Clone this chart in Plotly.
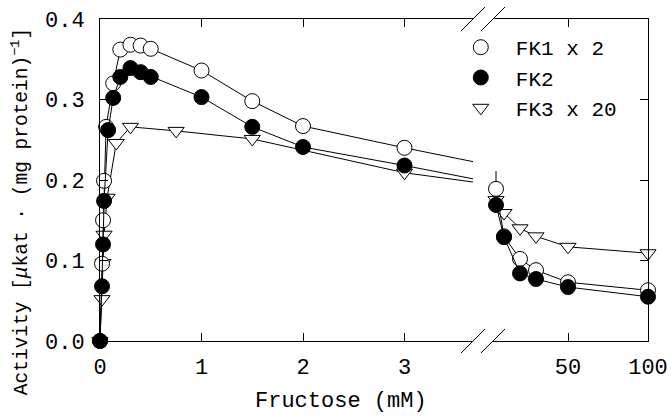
import plotly.graph_objects as go

# ---------------- data ----------------
fk1_x = [0, 0.02, 0.03, 0.04, 0.06, 0.13, 0.2, 0.3, 0.4, 0.5, 1, 1.5, 2, 3, 5, 10, 20, 30, 50, 100]
fk1_y = [0, 0.096, 0.150, 0.199, 0.266, 0.320, 0.362, 0.368, 0.367, 0.363, 0.336, 0.298, 0.267, 0.240,
         0.189, 0.130, 0.102, 0.088, 0.073, 0.063]
fk1_err = [0, 0.005, 0.005, 0.005, 0, 0, 0, 0, 0, 0, 0, 0, 0, 0, 0.022, 0, 0, 0, 0, 0]

fk2_x = [0, 0.02, 0.03, 0.04, 0.08, 0.13, 0.2, 0.3, 0.4, 0.5, 1, 1.5, 2, 3, 5, 10, 20, 30, 50, 100]
fk2_y = [0, 0.068, 0.120, 0.174, 0.262, 0.302, 0.328, 0.339, 0.334, 0.328, 0.303, 0.266, 0.241, 0.218,
         0.169, 0.129, 0.084, 0.077, 0.067, 0.055]

fk3_x = [0, 0.02, 0.03, 0.04, 0.07, 0.16, 0.3, 0.75, 1.5, 3, 5, 10, 20, 30, 50, 100]
fk3_y = [0, 0.052, 0.097, 0.132, 0.178, 0.246, 0.266, 0.261, 0.251, 0.209, 0.175, 0.159, 0.140, 0.130,
         0.117, 0.109]

series_names = ["FK1 x 2", "FK2", "FK3 x 20"]
x_ticks_left = [0, 1, 2, 3]
x_ticks_right = [50, 100]
y_ticks = [0.0, 0.1, 0.2, 0.3, 0.4]

# ---------------- layout geometry ----------------
W, H = 671, 417
ML, MR, MT, MB = 100, 23, 19, 76
PW = W - ML - MR
PH = H - MT - MB
left_end_px = 373          # px from plot-left where left segment ends
right_start_px = 393       # px from plot-left where right segment starts
left_px_per_unit = 101.5
right_px_per_unit = 1.6
left_range = [0, left_end_px / left_px_per_unit]
right_range = [100 - (PW - right_start_px) / right_px_per_unit, 100]
dom_left = [0, left_end_px / PW]
dom_right = [right_start_px / PW, 1]

FONT = "Liberation Mono"

fig = go.Figure()

styles = {
    "FK1 x 2": dict(symbol="circle", color="white", line=dict(color="black", width=1), size=15),
    "FK2": dict(symbol="circle", color="black", line=dict(color="black", width=1), size=15),
    "FK3 x 20": dict(symbol="triangle-down", color="white", line=dict(color="black", width=1), size=14),
}
data = {
    "FK1 x 2": (fk1_x, fk1_y, fk1_err),
    "FK2": (fk2_x, fk2_y, None),
    "FK3 x 20": (fk3_x, fk3_y, None),
}
rank = {"FK1 x 2": 1, "FK2": 2, "FK3 x 20": 3}

for name in ["FK3 x 20", "FK1 x 2", "FK2"]:
    xs, ys, err = data[name]
    # left segment line (clipped at break)
    fig.add_trace(go.Scatter(x=xs, y=ys, mode="lines", xaxis="x", yaxis="y",
                             line=dict(color="black", width=1), showlegend=False,
                             cliponaxis=True, hoverinfo="skip"))
    # left segment markers
    idx = [i for i, v in enumerate(xs) if v <= left_range[1]]
    eb = None
    if err is not None:
        eb = dict(type="data", array=[err[i] for i in idx], color="black", thickness=1, width=0)
    fig.add_trace(go.Scatter(x=[xs[i] for i in idx], y=[ys[i] for i in idx], mode="markers",
                             xaxis="x", yaxis="y", marker=styles[name], name=name,
                             error_y=eb, cliponaxis=False, legendrank=rank[name]))
    # right segment
    idx = [i for i, v in enumerate(xs) if v >= right_range[0]]
    eb = None
    if err is not None:
        eb = dict(type="data", array=[err[i] for i in idx], color="black", thickness=1, width=0)
    fig.add_trace(go.Scatter(x=[xs[i] for i in idx], y=[ys[i] for i in idx], mode="lines+markers",
                             xaxis="x2", yaxis="y2", marker=styles[name],
                             line=dict(color="black", width=1), error_y=eb,
                             showlegend=False, cliponaxis=False))

axis_common = dict(showline=True, linecolor="black", linewidth=1, ticks="inside", ticklen=8,
                   tickcolor="black", showgrid=False, zeroline=False, automargin=False,
                   tickfont=dict(family=FONT, size=22, color="black"))

fig.update_layout(
    width=W, height=H,
    margin=dict(l=ML, r=MR, t=MT, b=MB),
    paper_bgcolor="white", plot_bgcolor="white",
    font=dict(family=FONT, color="black"),
    xaxis=dict(domain=dom_left, range=left_range, tickvals=x_ticks_left, anchor="y",
               ticklabelstandoff=6, mirror="ticks", **axis_common),
    xaxis2=dict(domain=dom_right, range=right_range, tickvals=x_ticks_right, anchor="y2",
                ticklabelstandoff=6, mirror="ticks", **axis_common),
    yaxis=dict(domain=[0, 1], range=[0, 0.4], tickvals=y_ticks, tickformat=".1f", anchor="x",
               ticklabelstandoff=10, **axis_common),
    yaxis2=dict(domain=[0, 1], range=[0, 0.4], tickvals=y_ticks, anchor="x2", side="right",
                showticklabels=False, **axis_common),
    legend=dict(x=0.631, y=0.975, xanchor="left", yanchor="top", bgcolor="rgba(0,0,0,0)",
                font=dict(family=FONT, size=21, color="black"), tracegroupgap=0,
                itemwidth=60),
    showlegend=True,
)

# axis titles
fig.add_annotation(text="Fructose (mM)", xref="paper", yref="paper", x=0.44, y=0,
                   yshift=-60, showarrow=False, yanchor="middle",
                   font=dict(family=FONT, size=22, color="black"))
fig.add_annotation(text="Activity [<i>μ</i>kat · (mg protein)<sup>−1</sup>]",
                   xref="paper", yref="paper", x=0, y=0.40, xshift=-80, textangle=-90,
                   showarrow=False, xanchor="center", yanchor="middle",
                   font=dict(family=FONT, size=19.5, color="black"))

# axis break marks
dx = 12 / PW
dy = 12 / PH
for xc in [dom_left[1], dom_right[0]]:
    for yc in [0, 1]:
        fig.add_shape(type="line", xref="paper", yref="paper",
                      x0=xc - dx, y0=yc - dy, x1=xc + dx, y1=yc + dy,
                      line=dict(color="black", width=1))

fig.write_html("out.html", config={"displayModeBar": False},
               post_script="document.body.style.margin='0';document.body.style.padding='0';")
